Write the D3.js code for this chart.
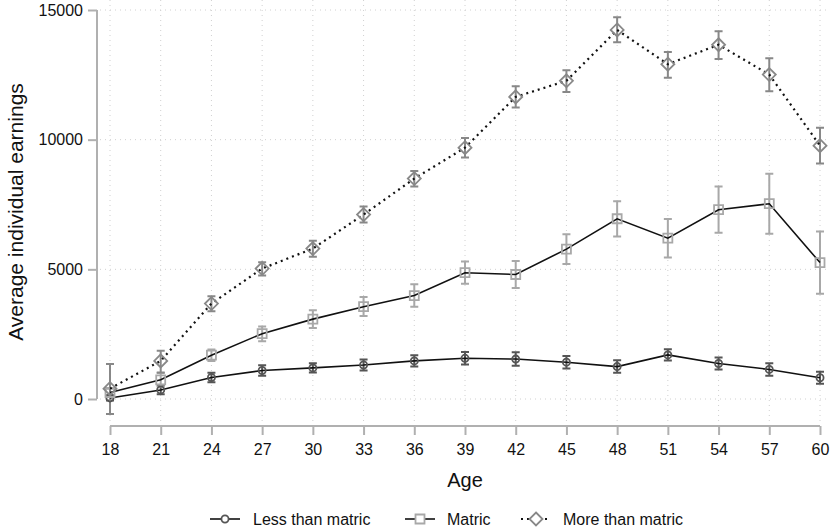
<!DOCTYPE html>
<html>
<head>
<meta charset="utf-8">
<script src="https://cdn.jsdelivr.net/npm/d3@7"></script>
<style>
  body { margin: 0; background: #fff; }
  text { font-family: "Liberation Sans", Arial, sans-serif; fill: #111; }
</style>
</head>
<body>
<script>
var ages = [18, 21, 24, 27, 30, 33, 36, 39, 42, 45, 48, 51, 54, 57, 60];
var yTicks = [0, 5000, 10000, 15000];

var lessMean = [40, 350, 830, 1100, 1200, 1310, 1470, 1570, 1540, 1420, 1250, 1700, 1370, 1140, 820];
var lessLo   = [-60, 180, 650, 900, 1020, 1100, 1250, 1330, 1280, 1180, 1010, 1480, 1140, 900, 590];
var lessHi   = [140, 520, 1010, 1300, 1380, 1520, 1690, 1810, 1800, 1660, 1490, 1920, 1600, 1380, 1050];

var matricMean = [250, 740, 1690, 2520, 3080, 3560, 3990, 4870, 4800, 5780, 6950, 6200, 7300, 7530, 5260];
var matricLo   = [100, 480, 1470, 2230, 2740, 3200, 3560, 4440, 4280, 5210, 6270, 5460, 6410, 6370, 4060];
var matricHi   = [400, 1000, 1910, 2800, 3420, 3930, 4420, 5300, 5320, 6350, 7630, 6940, 8190, 8690, 6460];

var moreMean = [400, 1470, 3680, 5030, 5800, 7110, 8500, 9690, 11650, 12270, 14230, 12910, 13660, 12510, 9770];
var moreLo   = [-580, 1020, 3380, 4760, 5490, 6810, 8190, 9310, 11240, 11840, 13760, 12390, 13110, 11870, 9080];
var moreHi   = [1350, 1860, 3960, 5270, 6100, 7420, 8790, 10060, 12060, 12680, 14720, 13380, 14180, 13140, 10460];

var seriesNames = ["Less than matric", "Matric", "More than matric"];

var W = 831, H = 528;
var svg = d3.select("body").append("svg").attr("width", W).attr("height", H);

var x = d3.scaleLinear().domain([18, 60]).range([110, 820]);
var y = d3.scaleLinear().domain([0, 15000]).range([399, 10]);

// gridlines
var grid = svg.append("g");
grid.selectAll(".hg").data(yTicks).enter().append("line")
  .attr("x1", 100).attr("x2", 830)
  .attr("y1", function(d){ return y(d); }).attr("y2", function(d){ return y(d); })
  .attr("stroke", "#d0d0d0").attr("stroke-width", 1).attr("stroke-dasharray", "1,4");
grid.selectAll(".vg").data(ages).enter().append("line")
  .attr("x1", function(d){ return x(d); }).attr("x2", function(d){ return x(d); })
  .attr("y1", 0).attr("y2", 421)
  .attr("stroke", "#d0d0d0").attr("stroke-width", 1).attr("stroke-dasharray", "1,4");

// axes
var yAxis = svg.append("g").attr("transform", "translate(97,0)")
  .call(d3.axisLeft(y).tickValues(yTicks).tickSize(9).tickPadding(5).tickFormat(d3.format("d")));
var xAxis = svg.append("g").attr("transform", "translate(0,426)")
  .call(d3.axisBottom(x).tickValues(ages).tickSize(9).tickPadding(9));
[yAxis, xAxis].forEach(function(a){
  a.select(".domain").attr("stroke", "#b0b0b0").attr("stroke-width", 2);
  a.selectAll(".tick line").attr("stroke", "#b0b0b0").attr("stroke-width", 2);
  a.selectAll(".tick text").style("font-size", "16px").attr("fill", "#111")
    .style("font-family", "Liberation Sans, Arial, sans-serif");
});
// Stata-style domain without end ticks
yAxis.select(".domain").attr("d", "M0," + y(15000) + "V" + y(0));
xAxis.select(".domain").attr("d", "M" + x(18) + ",0H" + x(60));

svg.append("text").attr("x", 465).attr("y", 487).attr("text-anchor", "middle")
  .style("font-size", "20px").text("Age");
svg.append("text").attr("transform", "translate(23,212) rotate(-90)").attr("text-anchor", "middle")
  .style("font-size", "21px").text("Average individual earnings");

function toRows(mean, lo, hi){
  return ages.map(function(a, i){ return {age: a, m: mean[i], lo: lo[i], hi: hi[i]}; });
}
var series = [
  {rows: toRows(lessMean, lessLo, lessHi), color: "#555555", dash: null, marker: "circle"},
  {rows: toRows(matricMean, matricLo, matricHi), color: "#a8a8a8", dash: null, marker: "square"},
  {rows: toRows(moreMean, moreLo, moreHi), color: "#888888", dash: "2,4", marker: "diamond"}
];

var line = d3.line().x(function(d){ return x(d.age); }).y(function(d){ return y(d.m); });
var cap = 4;

function markerPath(kind){
  if (kind === "circle") return d3.symbol().type(d3.symbolCircle).size(40)();
  if (kind === "square") return "M-4.5,-4.5H4.5V4.5H-4.5Z";
  return "M0,-6.5L6.5,0L0,6.5L-6.5,0Z";
}

// confidence intervals first
series.forEach(function(s){
  var g = svg.append("g");
  g.selectAll(".eb").data(s.rows).enter().append("path")
    .attr("d", function(d){
      var cx = x(d.age), a = y(d.hi), b = y(d.lo);
      return "M" + cx + "," + a + "V" + b +
        "M" + (cx - cap) + "," + a + "H" + (cx + cap) +
        "M" + (cx - cap) + "," + b + "H" + (cx + cap);
    })
    .attr("fill", "none").attr("stroke", s.color).attr("stroke-width", 2);
});

// then lines and hollow markers
series.forEach(function(s){
  var g = svg.append("g");
  g.append("path").datum(s.rows).attr("d", line)
    .attr("fill", "none").attr("stroke", "#111")
    .attr("stroke-width", s.dash ? 2.2 : 1.6)
    .attr("stroke-dasharray", s.dash);
  g.selectAll(".mk").data(s.rows).enter().append("path")
    .attr("transform", function(d){ return "translate(" + x(d.age) + "," + y(d.m) + ")"; })
    .attr("d", markerPath(s.marker))
    .attr("fill", "none").attr("stroke", s.color).attr("stroke-width", 1.8);
});

// legend
var legendPos = [{x0: 210, tx: 253}, {x0: 405, tx: 447}, {x0: 521, tx: 563}];
var leg = svg.append("g");
series.forEach(function(s, i){
  var p = legendPos[i], ly = 519;
  leg.append("line").attr("x1", p.x0).attr("x2", p.x0 + 30).attr("y1", ly).attr("y2", ly)
    .attr("stroke", "#111").attr("stroke-width", s.dash ? 2.2 : 1.6).attr("stroke-dasharray", s.dash);
  leg.append("path").attr("transform", "translate(" + (p.x0 + 15) + "," + ly + ")")
    .attr("d", markerPath(s.marker)).attr("fill", "#fff").attr("stroke", s.color).attr("stroke-width", 1.8);
  leg.append("text").attr("x", p.tx).attr("y", ly + 6).style("font-size", "16px").text(seriesNames[i]);
});
</script>
</body>
</html>
